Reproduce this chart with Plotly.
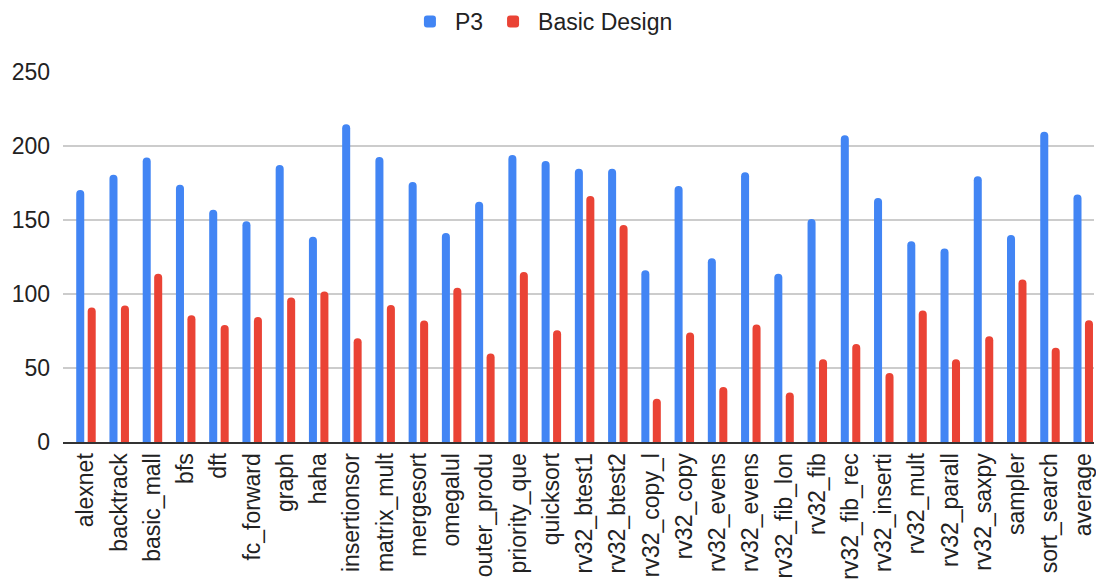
import plotly.graph_objects as go

# Benchmarks shown on the x axis (truncated names as labelled)
benchmarks = [
    "alexnet", "backtrack", "basic_mall", "bfs", "dft", "fc_forward", "graph",
    "haha", "insertionsor", "matrix_mult", "mergesort", "omegalul",
    "outer_produ", "priority_que", "quicksort", "rv32_btest1", "rv32_btest2",
    "rv32_copy_l", "rv32_copy", "rv32_evens", "rv32_evens", "rv32_fib_lon",
    "rv32_fib", "rv32_fib_rec", "rv32_inserti", "rv32_mult", "rv32_parall",
    "rv32_saxpy", "sampler", "sort_search", "average",
]

p3_values = [
    170.2, 180.6, 192.3, 173.8, 156.9, 149.1, 187.1, 138.7, 214.7, 192.6,
    175.6, 141.2, 162.3, 193.9, 189.9, 184.7, 184.7, 116.1, 172.9, 124.2,
    182.2, 113.6, 150.6, 207.2, 164.8, 135.7, 130.8, 179.5, 139.8, 209.7,
    167.3,
]

basic_values = [
    90.9, 92.2, 113.6, 85.7, 79.1, 84.5, 97.6, 101.7, 70.1, 92.5,
    82.1, 104.2, 59.8, 114.8, 75.5, 166.2, 146.6, 29.3, 74.0, 37.2,
    79.4, 33.4, 55.9, 66.3, 46.7, 88.9, 55.9, 71.5, 109.8, 63.6,
    82.3,
]

y_ticks = [0, 50, 100, 150, 200, 250]

# Two benchmarks share the label "rv32_evens", so bars sit on index positions
positions = list(range(len(benchmarks)))

FONT = "Liberation Sans, Arial, sans-serif"

fig = go.Figure()
fig.add_trace(go.Bar(x=positions, y=p3_values, name="P3",
                     marker=dict(color="#4285F4", line=dict(width=0))))
fig.add_trace(go.Bar(x=positions, y=basic_values, name="Basic Design",
                     marker=dict(color="#EA4335", line=dict(width=0))))

fig.update_layout(
    width=1096, height=584,
    margin=dict(l=63, r=0, t=72, b=142),
    paper_bgcolor="white", plot_bgcolor="white",
    font=dict(family=FONT, size=23, color="#222222"),
    barmode="group", bargap=0.31, bargroupgap=0.30, barcornerradius=4,
    showlegend=True,
    legend=dict(orientation="h", xref="container", yref="container",
                x=0.494, xanchor="center", y=1.0, yanchor="top",
                font=dict(family=FONT, size=23, color="#222222"),
                itemwidth=40),
    xaxis=dict(
        range=[-0.691, 30.324],
        tickmode="array", tickvals=positions, ticktext=benchmarks,
        tickangle=-90, showgrid=False, zeroline=False,
        showline=True, linecolor="#333333", linewidth=2,
        ticks="", ticklabeloverflow="allow",
        tickfont=dict(size=23, color="#222222"),
    ),
    yaxis=dict(
        range=[0, 250], tickmode="array", tickvals=y_ticks,
        showgrid=True, gridcolor="#cccccc", gridwidth=1.5,
        zeroline=False, showline=False, ticks="",
        ticklabelstandoff=12, tickfont=dict(size=23, color="#222222"),
    ),
)

fig.write_html("out.html")
